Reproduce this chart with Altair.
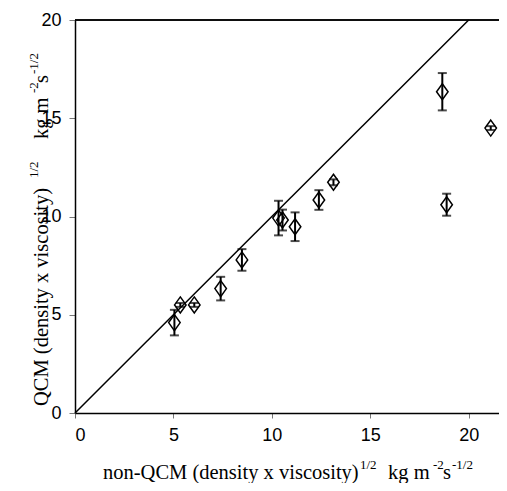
import altair as alt
import pandas as pd

# Data
x_vals = [5.05, 5.35, 6.06, 7.40, 8.48, 10.34, 10.54, 11.18, 12.39, 13.13, 18.66, 18.88, 21.12]
y_vals = [4.60, 5.50, 5.50, 6.33, 7.79, 9.92, 9.82, 9.48, 10.84, 11.74, 16.35, 10.60, 14.50]
y_err = [0.65, 0.10, 0.10, 0.60, 0.55, 0.88, 0.53, 0.73, 0.50, 0.15, 0.95, 0.56, 0.10]
line_x = [0, 20]
line_y = [0, 20]
x_ticks = [0, 5, 10, 15, 20]
y_ticks = [0, 5, 10, 15, 20]

x_title = ["non-QCM (density x viscosity)", "1/2", "kg m", "-2", "s", "-1/2"]
y_title = ["QCM (density x viscosity)", "1/2", "kg m", "-2", "s", "-1/2"]

df = pd.DataFrame({"x": x_vals, "y": y_vals, "err": y_err})
df["lo"] = df["y"] - df["err"]
df["hi"] = df["y"] + df["err"]
line_df = pd.DataFrame({"x": line_x, "y": line_y})

xs = alt.Scale(domain=[0, 21.54], nice=False, zero=True)
ys = alt.Scale(domain=[0, 20], nice=False)

x_axis = alt.Axis(values=x_ticks, title=None, grid=False, labelFont="Liberation Sans",
                  labelFontSize=18, labelColor="black", tickSize=5, tickColor="#777",
                  domainColor="black", domainWidth=1.5, labelPadding=8)
y_axis = alt.Axis(values=y_ticks, title=None, grid=False, labelFont="Liberation Sans",
                  labelFontSize=18, labelColor="black", tickSize=6, tickColor="#777",
                  domainColor="black", domainWidth=1.5, labelPadding=8)

base = alt.Chart(df)

diag = alt.Chart(line_df).mark_line(color="black", strokeWidth=1.5).encode(
    x=alt.X("x:Q", scale=xs, axis=x_axis),
    y=alt.Y("y:Q", scale=ys, axis=y_axis),
)

top_rule = alt.Chart(line_df).mark_rule(color="black", strokeWidth=1.5).encode(
    y=alt.datum(20)
)

bars = base.mark_rule(color="black", strokeWidth=2).encode(
    x=alt.X("x:Q", scale=xs), y=alt.Y("lo:Q", scale=ys), y2="hi:Q"
)
cap_lo = base.mark_tick(color="black", thickness=2, size=9, orient="horizontal").encode(
    x=alt.X("x:Q", scale=xs), y=alt.Y("lo:Q", scale=ys)
)
cap_hi = base.mark_tick(color="black", thickness=2, size=9, orient="horizontal").encode(
    x=alt.X("x:Q", scale=xs), y=alt.Y("hi:Q", scale=ys)
)
pts = base.mark_point(
    shape="M0,-1L0.72,0L0,1L-0.72,0Z", size=256, filled=False,
    color="black", strokeWidth=1.5, opacity=1
).encode(x=alt.X("x:Q", scale=xs), y=alt.Y("y:Q", scale=ys))

tdf = pd.DataFrame({"a": [0]})


def seg(text, x, y, size, angle=0):
    kw = dict(text=text, align="left", baseline="alphabetic", font="Liberation Serif",
              fontSize=size, color="black")
    if angle:
        kw["angle"] = angle
    return alt.Chart(tdf).mark_text(**kw).encode(x=alt.value(x), y=alt.value(y))


MAIN = 20.5
SUP = 13
# x title (plot coordinates)
xb = 459
xsb = 449
xt = [
    seg(x_title[0], 28, xb, MAIN),
    seg(x_title[1], 285, xsb, SUP),
    seg(x_title[2], 313, xb, MAIN),
    seg(x_title[3], 358, xsb, SUP),
    seg(x_title[4], 368, xb, MAIN),
    seg(x_title[5], 377, xsb, SUP),
]
# y title (rotated)
yb = -27
ysb = -37
yt = [
    seg(y_title[0], yb, 386, MAIN, 270),
    seg(y_title[1], ysb, 158, SUP, 270),
    seg(y_title[2], yb, 119, MAIN, 270),
    seg(y_title[3], ysb, 73, SUP, 270),
    seg(y_title[4], yb, 63, MAIN, 270),
    seg(y_title[5], ysb, 54, SUP, 270),
]

chart = alt.layer(diag, top_rule, bars, cap_lo, cap_hi, pts, *xt, *yt).properties(
    width=424, height=393,
    autosize=alt.AutoSizeParams(type="none"),
    padding={"left": 67, "top": 12, "right": 0, "bottom": 70},
).configure_view(stroke=None).configure(background="white")

chart.save("out.html", embed_options={"renderer": "svg", "actions": False})
